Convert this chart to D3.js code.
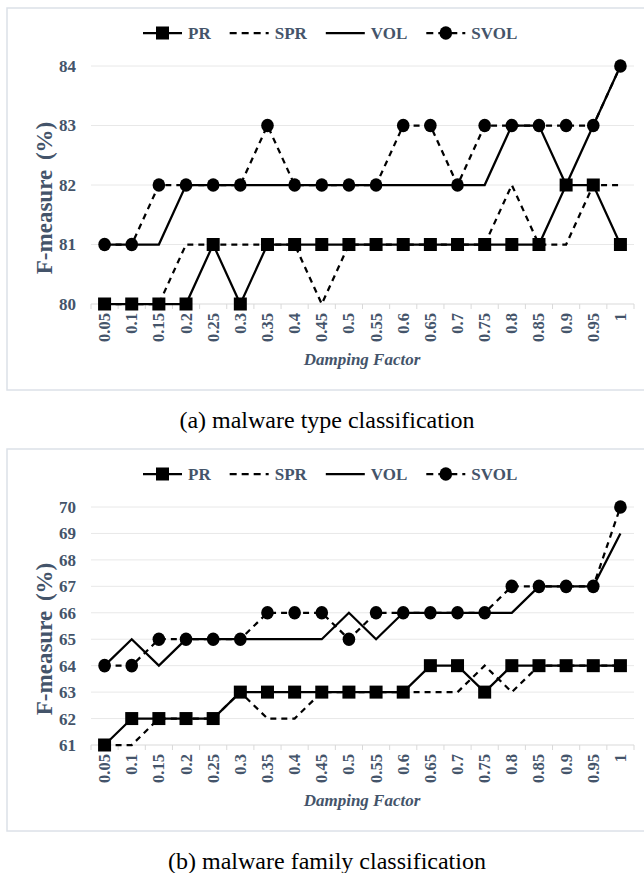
<!DOCTYPE html>
<html>
<head>
<meta charset="utf-8">
<script src="https://cdn.jsdelivr.net/npm/d3@7"></script>
<style>
  body { margin: 0; background: #fff; }
  svg { display: block; }
  text { font-family: "Liberation Serif", "Times New Roman", serif; }
</style>
</head>
<body>
<div id="container"></div>
<script>
const factors = ["0.05","0.1","0.15","0.2","0.25","0.3","0.35","0.4","0.45","0.5",
                 "0.55","0.6","0.65","0.7","0.75","0.8","0.85","0.9","0.95","1"];

// (a) malware type classification
const typePR   = [80,80,80,80,81,80,81,81,81,81,81,81,81,81,81,81,81,82,82,81];
const typeSPR  = [80,80,80,81,81,81,81,81,80,81,81,81,81,81,81,82,81,81,82,82];
const typeVOL  = [81,81,81,82,82,82,82,82,82,82,82,82,82,82,82,83,83,82,83,84];
const typeSVOL = [81,81,82,82,82,82,83,82,82,82,82,83,83,82,83,83,83,83,83,84];
const typeTicks = [80,81,82,83,84];

// (b) malware family classification
const famPR   = [61,62,62,62,62,63,63,63,63,63,63,63,64,64,63,64,64,64,64,64];
const famSPR  = [61,61,62,62,62,63,62,62,63,63,63,63,63,63,64,63,64,64,64,64];
const famVOL  = [64,65,64,65,65,65,65,65,65,66,65,66,66,66,66,66,67,67,67,69];
const famSVOL = [64,64,65,65,65,65,66,66,66,65,66,66,66,66,66,67,67,67,67,70];
const famTicks = [61,62,63,64,65,66,67,68,69,70];

const seriesNames = ["PR","SPR","VOL","SVOL"];
const seriesStyle = {
  PR:   {dash: null,  marker: "square"},
  SPR:  {dash: "6,5", marker: null},
  VOL:  {dash: null,  marker: null},
  SVOL: {dash: "6,5", marker: "circle"}
};

const width = 644, height = 873;
const slate = "#44546A";

const svg = d3.select("#container").append("svg")
  .attr("width", width)
  .attr("height", height);

function drawMarker(g, type, cx, cy){
  if(type == "square"){
    g.append("rect")
      .attr("x", cx - 6.5).attr("y", cy - 6.5)
      .attr("width", 13).attr("height", 13)
      .attr("fill", "#000");
  }else if(type == "circle"){
    g.append("ellipse")
      .attr("cx", cx).attr("cy", cy)
      .attr("rx", 6.3).attr("ry", 6.8)
      .attr("fill", "#000");
  }
}

function drawChart(top, series, ticks, caption){
  const g = svg.append("g");

  // frame (right side runs off the page like the source)
  g.append("rect")
    .attr("x", 7).attr("y", top)
    .attr("width", 700).attr("height", 382)
    .attr("fill", "none")
    .attr("stroke", "#DCE1E8")
    .attr("stroke-width", 1.5);

  const x = d3.scaleBand().domain(factors).range([91, 634]);
  const y = d3.scaleLinear()
    .domain([d3.min(ticks), d3.max(ticks)])
    .range([top + 296, top + 58]);
  const cx = d => x(d) + x.bandwidth() / 2;

  // gridlines
  g.append("g").selectAll("line")
    .data(ticks.slice(1))
    .join("line")
      .attr("x1", 91).attr("x2", 634)
      .attr("y1", d => y(d)).attr("y2", d => y(d))
      .attr("stroke", "#E8E8E8")
      .attr("stroke-width", 1);

  // y axis labels
  const yAxis = d3.axisLeft(y).tickValues(ticks).tickFormat(d3.format("d"))
    .tickSize(0).tickPadding(15);
  const ya = g.append("g").attr("transform", "translate(91,0)").call(yAxis);
  ya.select(".domain").remove();
  ya.selectAll("text")
    .attr("fill", slate)
    .attr("font-size", "17px")
    .attr("font-weight", "bold");

  // x axis line and boundary ticks
  const base = y(d3.min(ticks));
  g.append("line")
    .attr("x1", 91).attr("x2", 634)
    .attr("y1", base).attr("y2", base)
    .attr("stroke", "#D9D9D9").attr("stroke-width", 1);
  g.append("g").selectAll("line")
    .data(factors.concat(["end"]))
    .join("line")
      .attr("x1", (d, i) => 91 + i * x.step())
      .attr("x2", (d, i) => 91 + i * x.step())
      .attr("y1", base).attr("y2", base + 5)
      .attr("stroke", "#D9D9D9").attr("stroke-width", 1);

  g.append("g").selectAll("text")
    .data(factors)
    .join("text")
      .attr("transform", d => "translate(" + (cx(d) + 5.5) + "," + (base + 9) + ") rotate(-90)")
      .attr("text-anchor", "end")
      .attr("fill", slate)
      .attr("font-size", "16.5px")
      .attr("font-weight", "bold")
      .text(d => d);

  g.append("text")
    .attr("x", 362).attr("y", top + 357)
    .attr("text-anchor", "middle")
    .attr("fill", slate)
    .attr("font-size", "17px")
    .attr("font-weight", "bold")
    .attr("font-style", "italic")
    .text("Damping Factor");

  g.append("text")
    .attr("transform", "translate(52," + (top + 190) + ") rotate(-90)")
    .attr("text-anchor", "middle")
    .attr("fill", slate)
    .attr("font-size", "23px")
    .attr("font-weight", "bold")
    .attr("word-spacing", "4px")
    .text("F-measure (%)");

  // series
  const line = d3.line()
    .x((d, i) => cx(factors[i]))
    .y(d => y(d));

  seriesNames.forEach(name => {
    const st = seriesStyle[name];
    g.append("path")
      .datum(series[name])
      .attr("fill", "none")
      .attr("stroke", "#000")
      .attr("stroke-width", 2.25)
      .attr("stroke-dasharray", st.dash)
      .attr("d", line);
    if(st.marker){
      const mg = g.append("g");
      series[name].forEach((v, i) => drawMarker(mg, st.marker, cx(factors[i]), y(v)));
    }
  });

  // legend
  const lg = g.append("g");
  const ly = top + 25;
  let lx = 143;
  seriesNames.forEach(name => {
    const st = seriesStyle[name];
    lg.append("line")
      .attr("x1", lx).attr("x2", lx + 39)
      .attr("y1", ly).attr("y2", ly)
      .attr("stroke", "#000")
      .attr("stroke-width", 2.25)
      .attr("stroke-dasharray", st.dash ? "7,5" : null);
    if(st.marker) drawMarker(lg, st.marker, lx + 19.5, ly);
    const t = lg.append("text")
      .attr("x", lx + 45).attr("y", ly + 6)
      .attr("fill", slate)
      .attr("font-size", "17px")
      .attr("font-weight", "bold")
      .text(name);
    lx += 45 + t.node().getComputedTextLength() + 19;
  });

  svg.append("text")
    .attr("x", 327).attr("y", top + 420)
    .attr("text-anchor", "middle")
    .attr("fill", "#000")
    .attr("font-size", "24px")
    .text(caption);
}

drawChart(8, {PR: typePR, SPR: typeSPR, VOL: typeVOL, SVOL: typeSVOL}, typeTicks,
  "(a) malware type classification");
drawChart(449, {PR: famPR, SPR: famSPR, VOL: famVOL, SVOL: famSVOL}, famTicks,
  "(b) malware family classification");
</script>
</body>
</html>
